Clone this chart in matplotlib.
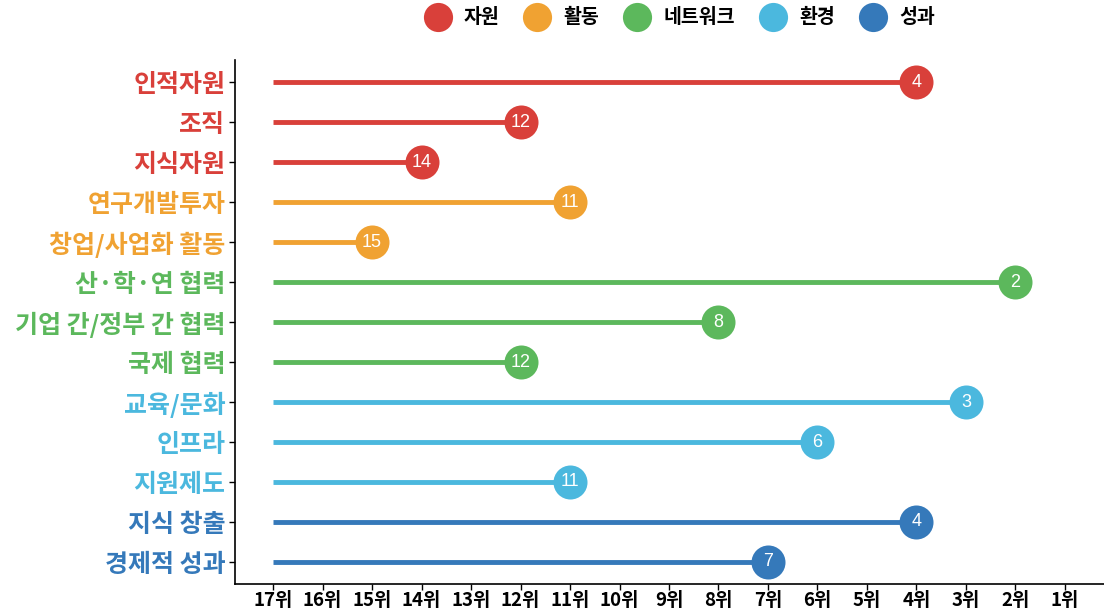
import matplotlib
matplotlib.use("Agg")
import matplotlib.pyplot as plt
from matplotlib.lines import Line2D

plt.rcParams['font.family'] = ['Noto Sans CJK KR', 'DejaVu Sans']

categories = ["인적자원", "조직", "지식자원", "연구개발투자", "창업/사업화 활동",
              "산·학·연 협력", "기업 간/정부 간 협력", "국제 협력",
              "교육/문화", "인프라", "지원제도", "지식 창출", "경제적 성과"]
ranks = [4, 12, 14, 11, 15, 2, 8, 12, 3, 6, 11, 4, 7]
groups = ["자원", "자원", "자원", "활동", "활동",
          "네트워크", "네트워크", "네트워크",
          "환경", "환경", "환경", "성과", "성과"]
group_names = ["자원", "활동", "네트워크", "환경", "성과"]
group_colors = {"자원": "#d9403a", "활동": "#f0a232", "네트워크": "#5cb85c",
                "환경": "#4bb8de", "성과": "#3579ba"}
tick_ranks = list(range(17, 0, -1))
tick_labels = [f"{r}위" for r in tick_ranks]

fig = plt.figure(figsize=(11.04, 6.12), dpi=100)
ax = fig.add_axes([235/1104, 28/612, 1 - 235/1104, (584-60)/612])

n = len(categories)
ys = list(range(n, 0, -1))
for cat, r, g, y in zip(categories, ranks, groups, ys):
    c = group_colors[g]
    ax.plot([17, r], [y, y], color=c, lw=3.5, solid_capstyle='butt', zorder=2)
    ax.scatter([r], [y], s=600, color=c, zorder=3, linewidths=0)
    ax.text(r, y, str(r), color='white', ha='center', va='center',
            fontsize=13, zorder=4, family=['Liberation Sans', 'DejaVu Sans'])

ax.set_xlim(17.77, 0.21)
ax.set_ylim(0.45, n + 0.55)
ax.set_xticks(tick_ranks)
ax.set_xticklabels(tick_labels, fontsize=13.5, fontweight='bold')
ax.set_yticks(ys)
ax.set_yticklabels(categories, fontsize=18, fontweight='bold')
for lbl, g in zip(ax.get_yticklabels(), groups):
    lbl.set_color(group_colors[g])
ax.tick_params(axis='both', direction='out', length=4, width=1, color='black')
ax.tick_params(axis='y', pad=3)
ax.tick_params(axis='x', pad=1)
for s in ['top', 'right']:
    ax.spines[s].set_visible(False)
for s in ['left', 'bottom']:
    ax.spines[s].set_linewidth(1.2)

handles = [Line2D([0], [0], marker='o', color='none', markerfacecolor=group_colors[g],
                  markeredgewidth=0, markersize=21, label=g) for g in group_names]
fig.legend(handles=handles, loc='upper center', bbox_to_anchor=(0.615, 1.015), ncol=5,
           frameon=False, prop={'size': 14, 'weight': 'bold'}, handletextpad=0.6,
           columnspacing=1.2, handlelength=1.5)

fig.savefig("out.png", dpi=100)
